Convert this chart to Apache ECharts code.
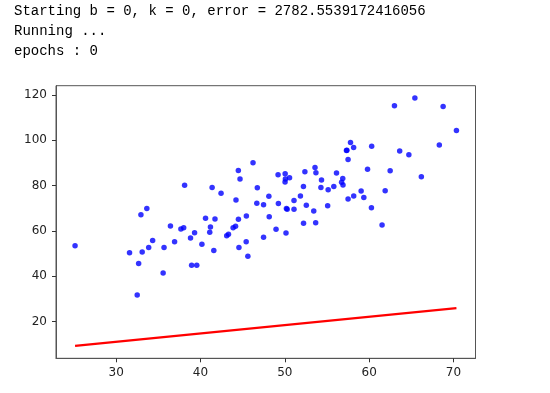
<!DOCTYPE html>
<html>
<head>
<meta charset="utf-8">
<script src="https://cdn.jsdelivr.net/npm/echarts@6/dist/echarts.min.js"></script>
<style>
html,body{margin:0;padding:0;background:#fff;}
#chart{width:550px;height:393px;}
</style>
</head>
<body>
<div id="chart"></div>
<script>
const outputLines = [
  "Starting b = 0, k = 0, error = 2782.5539172416056",
  "Running ...",
  "epochs : 0"
];
const xData = [32.50,53.43,61.53,47.48,59.81,55.14,52.21,39.30,48.11,52.55,45.42,54.35,44.16,58.17,56.73,48.96,44.69,60.30,45.62,38.82,66.19,65.42,47.48,41.58,51.85,59.37,57.31,63.62,46.74,50.56,52.22,35.57,42.44,58.16,57.50,45.44,61.90,33.09,36.44,37.68,44.56,43.32,50.07,43.87,63.00,32.67,40.17,53.58,33.86,64.71,38.12,44.50,40.60,41.72,51.09,55.08,41.38,62.49,49.20,41.10,41.18,50.19,52.38,50.14,33.64,39.56,56.13,57.36,60.27,35.68,31.59,53.66,46.68,43.11,70.35,44.49,57.50,36.93,55.81,38.95,56.90,56.87,34.33,59.05,57.79,54.28,51.09,50.28,44.21,38.01,32.94,53.69,68.77,46.23,68.32,50.03,49.24,50.04,48.15,25.13];
const yData = [31.71,68.78,62.56,71.55,87.23,78.21,79.64,59.17,75.33,71.30,55.17,82.48,62.01,75.39,81.44,60.72,82.89,97.38,48.85,56.88,83.88,118.59,57.25,51.39,75.38,74.77,95.46,95.23,79.05,83.43,63.36,41.41,76.62,96.77,74.08,66.59,77.77,50.72,62.12,60.81,52.68,58.57,82.91,61.42,115.24,45.57,54.08,87.99,52.73,93.58,80.17,65.10,65.56,65.28,73.43,71.14,79.10,86.52,84.74,59.36,61.68,69.85,86.10,59.11,69.90,44.86,85.50,95.54,70.25,52.72,50.39,63.64,72.25,57.81,104.26,86.64,91.49,55.23,79.55,44.85,80.21,83.14,55.72,77.63,99.05,79.12,69.59,69.51,73.69,61.37,67.17,85.67,114.85,90.12,97.92,81.54,72.11,85.23,66.22,53.45];
const lineX = [25.13, 70.35];
const lineY = [9.27, 25.94];
const xTicks = [30, 40, 50, 60, 70];
const yTicks = [20, 40, 60, 80, 100, 120];

const points = xData.map((x, i) => [x, yData[i]]);
const linePts = lineX.map((x, i) => [x, lineY[i]]);

const chart = echarts.init(document.getElementById('chart'), null, {renderer: 'canvas'});
chart.setOption({
  animation: false,
  backgroundColor: '#fff',
  graphic: outputLines.map((t, i) => ({
    type: 'text',
    left: 14,
    top: 4 + i * 20,
    style: {text: t, font: '14px "Liberation Mono", monospace', fill: '#000'}
  })),
  grid: {left: 56, right: 74.5, top: 85.7, bottom: 34.7, show: true, borderColor: '#555', borderWidth: 1, backgroundColor: '#fff'},
  xAxis: {
    type: 'value', min: 22.87, max: 72.61,
    splitLine: {show: false},
    axisLine: {show: true, lineStyle: {color: '#555'}},
    axisTick: {show: true, length: 4, lineStyle: {color: '#333'}, customValues: xTicks},
    axisLabel: {color: '#222', fontSize: 12, fontFamily: 'DejaVu Sans', margin: 9, customValues: xTicks}
  },
  yAxis: {
    type: 'value', min: 3.80, max: 124.06,
    splitLine: {show: false},
    axisLine: {show: true, lineStyle: {color: '#555'}},
    axisTick: {show: true, length: 4, lineStyle: {color: '#333'}, customValues: yTicks},
    axisLabel: {color: '#222', fontSize: 12, fontFamily: 'DejaVu Sans', margin: 9, customValues: yTicks}
  },
  series: [
    {type: 'scatter', data: points, symbolSize: 5.5, itemStyle: {color: '#0000ff'}, z: 3},
    {type: 'line', data: linePts, symbol: 'none', lineStyle: {color: '#ff0000', width: 2.2}, z: 2}
  ]
});
</script>
</body>
</html>
